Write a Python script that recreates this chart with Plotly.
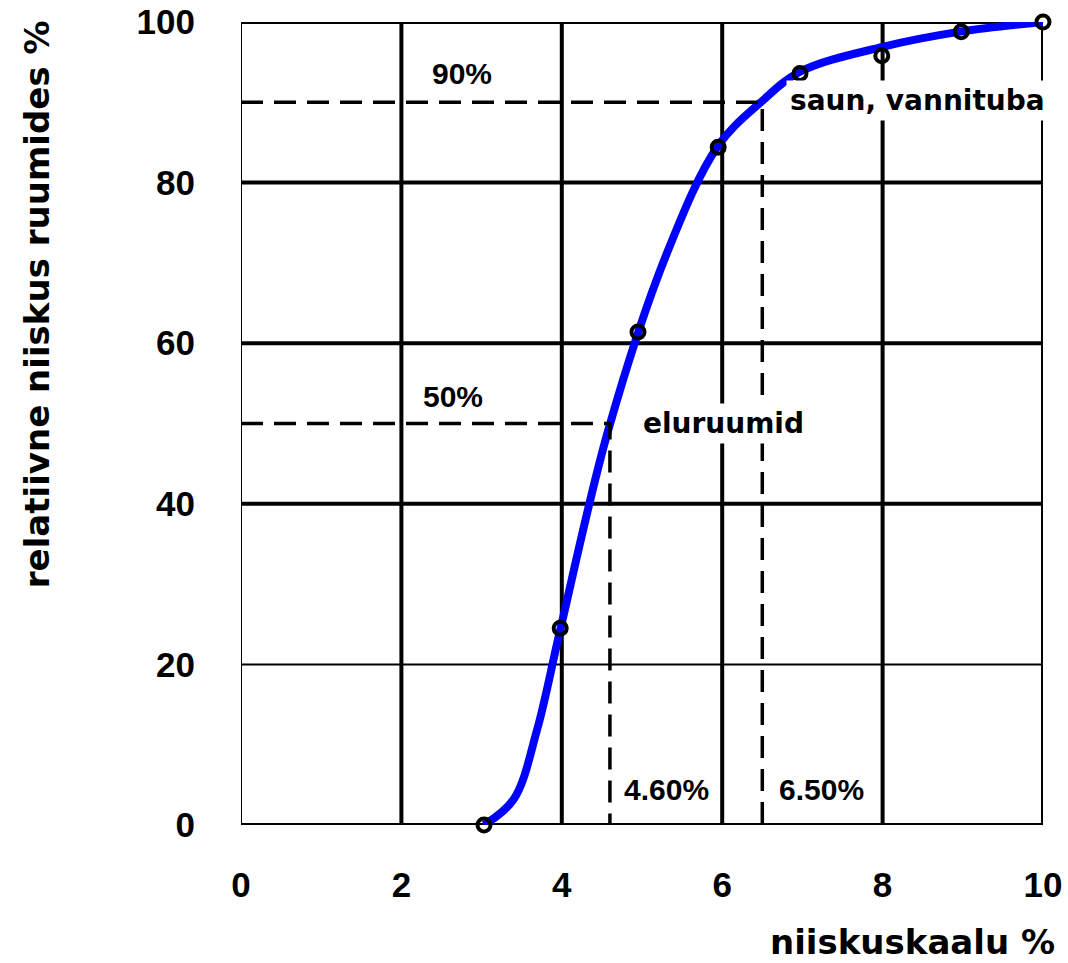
import plotly.graph_objects as go

# measured data points (open circles)
point_x = [3.03, 3.98, 4.95, 5.95, 6.97, 7.99, 8.98, 10.0]
point_y = [0.0, 24.5, 61.4, 84.4, 93.6, 95.8, 98.8, 100.0]

# smooth curve
curve_x = [3.03, 3.4, 3.69, 3.98, 4.58, 5.31, 5.95, 6.47, 6.97, 8.0, 8.97, 10.0]
curve_y = [0.0, 3.2, 11.8, 24.3, 49.2, 71.2, 84.6, 89.9, 93.8, 96.9, 98.8, 100.0]

# reference levels
ref_x = [4.6, 6.5]
ref_y = [50, 90]
ref_pct_labels = ["50%", "90%"]
ref_x_labels = ["4.60%", "6.50%"]

x_ticks = [0, 2, 4, 6, 8, 10]
y_ticks = [0, 20, 40, 60, 80, 100]
x_grid = [0, 2, 4, 6, 8, 10]
x_grid_w = [2, 4, 4, 4, 4, 4]
y_grid = [0, 20, 40, 60, 80, 100]
y_grid_w = [4, 2, 4, 4, 4, 4]

fig = go.Figure()

shapes = []
for gx, w in zip(x_grid, x_grid_w):
    shapes.append(dict(type="line", xref="x", yref="y", x0=gx, x1=gx, y0=0, y1=100,
                       line=dict(color="black", width=w), layer="below"))
for gy, w in zip(y_grid, y_grid_w):
    shapes.append(dict(type="line", xref="x", yref="y", x0=0, x1=10, y0=gy, y1=gy,
                       line=dict(color="black", width=w), layer="below"))

fig.add_trace(go.Scatter(x=curve_x, y=curve_y, mode="lines",
                         line=dict(color="#0000ff", width=8, shape="spline", smoothing=1.0),
                         hoverinfo="skip", showlegend=False, cliponaxis=False))

for rx, ry in zip(ref_x, ref_y):
    fig.add_trace(go.Scatter(x=[0, rx, rx], y=[ry, ry, 0], mode="lines",
                             line=dict(color="black", width=3.5, dash="22px,11px"),
                             showlegend=False, hoverinfo="skip"))

fig.add_trace(go.Scatter(x=point_x, y=point_y, mode="markers",
                         marker=dict(symbol="circle-open", size=13, color="black",
                                     line=dict(width=4, color="black")),
                         cliponaxis=False, showlegend=False))

ann_font = dict(family="DejaVu Sans", size=28, color="black", weight="bold")
lab_font = dict(family="Liberation Sans", size=30, color="black", weight="bold")

annotations = [
    dict(x=2.76, y=93.6, text=ref_pct_labels[1], font=lab_font),
    dict(x=2.64, y=53.4, text=ref_pct_labels[0], font=lab_font),
    dict(x=5.31, y=4.4, text=ref_x_labels[0], font=lab_font, bgcolor="white"),
    dict(x=7.24, y=4.4, text=ref_x_labels[1], font=lab_font, bgcolor="white"),
    dict(x=6.01, y=50.0, text="eluruumid", font=ann_font, bgcolor="white", borderpad=3),
    dict(x=8.43, y=90.2, text="saun, vannituba", font=ann_font, bgcolor="white", borderpad=3),
]
for a in annotations:
    a.update(xref="x", yref="y", showarrow=False, xanchor="center", yanchor="middle")

title_font = dict(family="DejaVu Sans", size=34, color="black", weight="bold")
annotations.append(dict(xref="paper", yref="paper", x=1.017, y=-0.146, text="niiskuskaalu %",
                        showarrow=False, xanchor="right", yanchor="middle", font=title_font))
annotations.append(dict(xref="paper", yref="paper", x=-0.254, y=0.649,
                        text="relatiivne niiskus ruumides %", textangle=-90,
                        showarrow=False, xanchor="center", yanchor="middle", font=title_font))

tick_font = dict(family="Liberation Sans", size=35, color="black", weight="bold")

fig.update_layout(
    width=1068, height=963,
    margin=dict(l=241, r=25, t=22, b=138, autoexpand=False),
    paper_bgcolor="white", plot_bgcolor="white",
    shapes=shapes, annotations=annotations,
    xaxis=dict(range=[0, 10], tickvals=x_ticks, ticktext=[str(v) for v in x_ticks],
               showgrid=False, zeroline=False, showline=False, tickfont=tick_font,
               ticklabelstandoff=36, ticklabeloverflow="allow", fixedrange=True),
    yaxis=dict(range=[0, 100], tickvals=y_ticks, ticktext=[str(v) for v in y_ticks],
               showgrid=False, zeroline=False, showline=False, tickfont=tick_font,
               ticklabelstandoff=45, ticklabeloverflow="allow", fixedrange=True),
)

# remove the default 8px page margin so the figure fills the window exactly
fig.write_html("out.html", config={"displayModeBar": False},
               post_script="document.body.style.margin='0';document.body.style.overflow='hidden';")
